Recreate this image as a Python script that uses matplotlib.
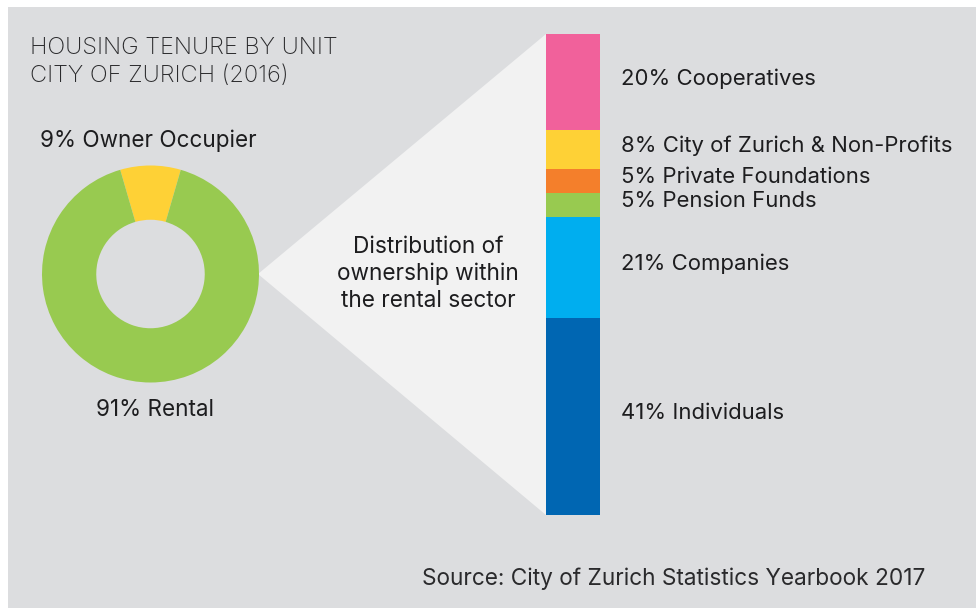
import matplotlib
matplotlib.use("Agg")
import matplotlib.pyplot as plt
from matplotlib.patches import Rectangle, Polygon
import numpy as np

# ---- data ----
tenure_labels = ["9% Owner Occupier", "91% Rental"]
tenure_values = [9, 91]
tenure_colors = ["#fed136", "#98ca50"]

owner_labels = ["20% Cooperatives", "8% City of Zurich & Non-Profits",
                "5% Private Foundations", "5% Pension Funds",
                "21% Companies", "41% Individuals"]
owner_values = [20, 8, 5, 5, 21, 41]
owner_colors = ["#f1619b", "#fed136", "#f47f2b", "#98ca50", "#00aeef", "#0066b2"]

title_lines = ["HOUSING TENURE BY UNIT", "CITY OF ZURICH (2016)"]
middle_text = "Distribution of\nownership within\nthe rental sector"
source_text = "Source: City of Zurich Statistics Yearbook 2017"

W, H = 976, 608
FONT = "Inter"
TXT = "#1d1d1f"
BG = "#dcdddf"
TRI = "#f2f2f2"

def fx(px):
    return px / W

def fy(py):
    return 1 - py / H

fig = plt.figure(figsize=(W / 100, H / 100), dpi=100)
fig.patch.set_facecolor("white")

# background panel
fig.patches.append(Rectangle((fx(8), 0), 1 - fx(8), fy(7), transform=fig.transFigure,
                             facecolor=BG, edgecolor="none", zorder=-2))

# donut geometry (pixels)
cx, cy, R = 150.5, 274, 108.5
# bar geometry (pixels)
bx0, bx1, by0, by1 = 546, 600, 34, 515

# connector triangle
fig.patches.append(Polygon([(fx(cx + R - 1), fy(cy)), (fx(bx0), fy(by0)), (fx(bx0), fy(by1))],
                           closed=True, transform=fig.transFigure,
                           facecolor=TRI, edgecolor="none", zorder=-1))

# donut
axd = fig.add_axes([fx(cx - R), fy(cy + R), 2 * R / W, 2 * R / H])
axd.pie(tenure_values, colors=tenure_colors, startangle=90 - tenure_values[0] * 3.6 / 2,
        counterclock=True, radius=1.0, wedgeprops=dict(width=0.5, linewidth=0))
axd.set_xlim(-1, 1)
axd.set_ylim(-1, 1)
axd.set_aspect("auto")
axd.axis("off")
axd.set_zorder(2)

# stacked bar
axb = fig.add_axes([fx(bx0), fy(by1), (bx1 - bx0) / W, (by1 - by0) / H])
cum = np.concatenate([[0], np.cumsum(owner_values)[:-1]])
axb.bar([0] * len(owner_values), owner_values, bottom=cum, color=owner_colors,
        width=1.0, linewidth=0)
axb.set_xlim(-0.5, 0.5)
axb.set_ylim(sum(owner_values), 0)
axb.axis("off")
axb.set_zorder(2)
lab_x = (621 - bx0) / (bx1 - bx0)
for lab, b, v in zip(owner_labels, cum, owner_values):
    axb.annotate(lab, (lab_x, b + v / 2), xycoords=axb.get_yaxis_transform(),
                 xytext=(0, 2.5), textcoords="offset points",
                 ha="left", va="center", fontsize=15.9, family=FONT, color=TXT,
                 annotation_clip=False)

# texts
fig.text(fx(30), fy(37), title_lines[0], ha="left", va="top", fontsize=17,
         family=FONT, weight="light", color="#2a2a2c")
fig.text(fx(30), fy(65), title_lines[1], ha="left", va="top", fontsize=17,
         family=FONT, weight="light", color="#2a2a2c")
fig.text(fx(40), fy(129), tenure_labels[0], ha="left", va="top", fontsize=16.2,
         family=FONT, color=TXT)
fig.text(fx(154.5), fy(399), tenure_labels[1], ha="center", va="top", fontsize=16.2,
         family=FONT, color=TXT)
fig.text(fx(428), fy(274), middle_text, ha="center", va="center", fontsize=16.3,
         family=FONT, color=TXT, linespacing=1.3)
fig.text(fx(925), fy(585), source_text, ha="right", va="baseline", fontsize=16.3,
         family=FONT, color="#2a2a2c")

fig.savefig("out.png", dpi=100, facecolor=fig.get_facecolor())
